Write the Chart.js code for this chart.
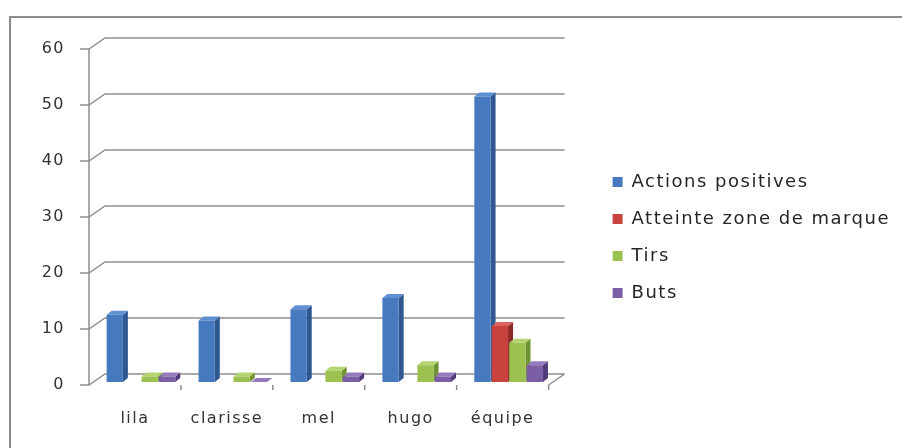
<!DOCTYPE html>
<html><head><meta charset="utf-8">
<script src="https://cdn.jsdelivr.net/npm/chart.js@4.4.1/dist/chart.umd.min.js"></script>
<style>
html,body{margin:0;padding:0;background:#fff;}
#frame{position:absolute;left:9px;top:16px;width:900px;height:440px;border:2px solid #8c8c8c;box-sizing:border-box;}
#wrap{position:absolute;left:0;top:0;width:902px;height:448px;}
</style></head><body>
<div id="frame"></div>
<div id="wrap"><canvas id="c" width="902" height="448"></canvas></div>
<script>
const categories = ['lila', 'clarisse', 'mel', 'hugo', 'équipe'];
const actionsPositives = [12, 11, 13, 15, 51];
const atteinteZone = [null, null, null, null, 10];
const tirs = [1, 1, 2, 3, 7];
const buts = [1, 0, 1, 1, 3];
const seriesNames = ['Actions positives', 'Atteinte zone de marque', 'Tirs', 'Buts'];
const yTicks = [0, 10, 20, 30, 40, 50, 60];

const frontColors = ['#4679bd', '#c9433e', '#9bc251', '#7b5ea6'];
const sideColors  = ['#2f5890', '#8e2b28', '#6f9232', '#4f3b78'];
const topColors   = ['#5f91d2', '#db625d', '#b4d470', '#957abd'];

const FRONT = {dx: -6, dy: 3};
const BACK = {dx: 10, dy: -8};
const BAR3D = {dx: 5, dy: 4};

const spacing = {
  id: 'spacing',
  beforeUpdate(c) { c.ctx.letterSpacing = '1.5px'; },
  beforeDraw(c) { c.ctx.letterSpacing = '1.5px'; }
};

const wall = {
  id: 'wall',
  beforeDatasetsDraw(chart) {
    const {ctx, chartArea: a, scales: {x, y}} = chart;
    ctx.save();
    ctx.strokeStyle = '#8e8e8e';
    ctx.lineWidth = 1.5;
    const fl = a.left + FRONT.dx;
    const bl = a.left + BACK.dx;
    const br = a.right + BACK.dx;
    const fr = a.right + FRONT.dx;
    const y0 = y.getPixelForValue(0);
    ctx.beginPath();
    yTicks.forEach(v => {
      const py = y.getPixelForValue(v);
      ctx.moveTo(fl - 9, py + FRONT.dy);
      ctx.lineTo(fl, py + FRONT.dy);
      ctx.lineTo(bl, py + BACK.dy);
      ctx.lineTo(br, py + BACK.dy);
    });
    ctx.moveTo(fl, y0 + FRONT.dy);
    ctx.lineTo(fl, y.getPixelForValue(yTicks[yTicks.length - 1]) + FRONT.dy);
    ctx.moveTo(fr, y0 + FRONT.dy);
    ctx.lineTo(br, y0 + BACK.dy);
    for (let i = 1; i <= categories.length; i++) {
      const bx = x.getPixelForValue(i - 0.5) + FRONT.dx;
      ctx.moveTo(bx, y0 + FRONT.dy);
      ctx.lineTo(bx, y0 + FRONT.dy + 5);
    }
    ctx.stroke();
    chart.data.datasets.forEach((ds, di) => {
      const meta = chart.getDatasetMeta(di);
      meta.data.forEach((el, j) => {
        if (ds.data[j] === null || ds.data[j] === undefined) return;
        const p = el.getProps(['x', 'y', 'base', 'width'], true);
        const l = p.x - p.width / 2, r = p.x + p.width / 2;
        ctx.fillStyle = sideColors[di];
        ctx.beginPath();
        ctx.moveTo(r, p.y); ctx.lineTo(r + BAR3D.dx, p.y - BAR3D.dy);
        ctx.lineTo(r + BAR3D.dx, p.base - BAR3D.dy); ctx.lineTo(r, p.base);
        ctx.closePath(); ctx.fill();
        ctx.fillStyle = topColors[di];
        ctx.beginPath();
        ctx.moveTo(l, p.y); ctx.lineTo(l + BAR3D.dx, p.y - BAR3D.dy);
        ctx.lineTo(r + BAR3D.dx, p.y - BAR3D.dy); ctx.lineTo(r, p.y);
        ctx.closePath(); ctx.fill();
      });
    });
    ctx.restore();
  }
};

const seriesData = [actionsPositives, atteinteZone, tirs, buts];
new Chart(document.getElementById('c'), {
  type: 'bar',
  data: {
    labels: categories,
    datasets: seriesNames.map((n, i) => ({
      label: n,
      data: seriesData[i],
      backgroundColor: frontColors[i],
      borderWidth: 0,
      categoryPercentage: 0.76,
      barPercentage: 0.93
    }))
  },
  options: {
    responsive: false,
    animation: false,
    layout: {padding: {left: 0, top: 46, right: 2, bottom: 19}},
    plugins: {
      tooltip: {enabled: false},
      legend: {
        position: 'right',
        maxWidth: 400,
        labels: {
          boxWidth: 10, boxHeight: 10, padding: 19, color: '#262626',
          font: {family: 'DejaVu Sans', size: 18}
        }
      }
    },
    scales: {
      x: {
        grid: {display: false, drawTicks: false},
        border: {display: false},
        ticks: {color: '#333', font: {family: 'DejaVu Sans', size: 16}, padding: 27, labelOffset: FRONT.dx, maxRotation: 0},
        afterFit(s) { s.height = 47; }
      },
      y: {
        min: 0, max: 60,
        grid: {display: false, drawTicks: false},
        border: {display: false},
        ticks: {stepSize: 10, color: '#333', font: {family: 'DejaVu Sans', size: 16}, padding: 30, labelOffset: FRONT.dy},
        afterFit(s) { s.width = 95; }
      },
      gap: {
        type: 'linear', position: 'right', display: true,
        grid: {display: false, drawTicks: false},
        border: {display: false},
        ticks: {display: false},
        afterFit(s) { s.width = 39; }
      }
    }
  },
  plugins: [spacing, wall]
});
</script>
</body></html>
